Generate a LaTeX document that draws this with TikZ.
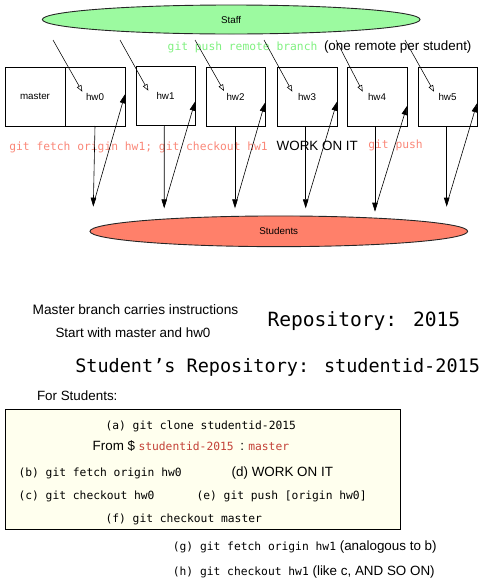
\documentclass[tikz,border=0pt]{standalone}
\usepackage{fontspec}
\setmainfont{Liberation Sans}
\newfontfamily\monof{DejaVu Sans Mono}
\usetikzlibrary{arrows.meta,shapes.geometric}
\definecolor{staffgreen}{RGB}{156,250,160}
\definecolor{studsalmon}{RGB}{255,128,106}
\definecolor{codegreen}{RGB}{128,240,128}
\definecolor{codesalmon}{RGB}{250,135,120}
\definecolor{codered}{RGB}{195,65,55}
\definecolor{noteyellow}{RGB}{255,255,238}
\begin{document}
\begin{tikzpicture}[x=1pt,y=-1pt,
  every node/.style={inner sep=0pt,outer sep=0pt},
  oval/.style={ellipse,draw=black!85,line width=0.9pt,minimum width=377.7pt,minimum height=30pt,font=\fontsize{9.8}{12}\selectfont},
  branch/.style={draw,line width=0.8pt,minimum width=60pt,minimum height=59pt,font=\fontsize{9.8}{12}\selectfont},
  pushline/.style={-{Triangle[open,length=6.5pt,width=5pt]},line width=0.55pt},
  fetchline/.style={-{Triangle[length=9pt,width=5.5pt]},line width=0.6pt},
  sanstxt/.style={font=\fontsize{13.4}{16}\selectfont,anchor=base west},
  codetxt/.style={font=\monof\fontsize{11.3}{14}\selectfont,anchor=base west},
  bigcode/.style={font=\monof\fontsize{19.6}{24}\selectfont,anchor=base west}]
\useasboundingbox (0,0) rectangle (487,587);

% ellipses
\node[oval,fill=staffgreen,minimum height=29pt] (staff) at (231.2,19.5) {Staff};
\node[oval,fill=studsalmon,minimum height=30.7pt] (students) at (278.8,231.3) {Students};

% branch boxes
\node[branch] (master) at (35,96.5) {master};
\node[branch] (b0) at (95,96.5) {hw0};
\node[branch,minimum width=59pt] (b1) at (165.5,96) {hw1};
\node[branch,minimum width=59pt] (b2) at (235.5,96.5) {hw2};
\node[branch] (b3) at (307,96.5) {hw3};
\node[branch] (b4) at (377,96.5) {hw4};
\node[branch,minimum width=59pt] (b5) at (447.5,96.5) {hw5};

% labels of the top part
\node[codetxt,text=codegreen] (pushlbl) at (167.7,50) {git push remote branch};
\node[sanstxt] (perstud) at (324,50) {(one remote per student)};
\node[codetxt,text=codesalmon] (fetchlbl) at (9.3,150.7) {git fetch origin hw1; git checkout hw1};
\node[sanstxt] (worklbl) at (276.7,150.7) {WORK ON IT};
\node[codetxt,text=codesalmon] (gitpush) at (368.3,148.6) {git push};

% push arrows from Staff
\coordinate (s0) at (53,40);   \coordinate (t0) at (82.3,91.7);
\coordinate (s1) at (120,40);  \coordinate (t1) at (148.3,90.7);
\coordinate (s2) at (195,40);  \coordinate (t2) at (224,91);
\coordinate (s3) at (264,40);  \coordinate (t3) at (292.3,91.7);
\coordinate (s4) at (336,40);  \coordinate (t4) at (362.7,91.7);
\coordinate (s5) at (405,40);  \coordinate (t5) at (434,91.7);
\foreach \i in {0,...,5}{\draw[pushline] (s\i) -- (t\i);}

% fetch arrows down to Students and back up
\coordinate (d0) at (93.3,206.7);
\coordinate (d1) at (164.2,208.3);
\coordinate (d2) at (235,208.3);
\coordinate (d3) at (305.7,208.3);
\coordinate (d4) at (375,211.7);
\coordinate (d5) at (446.7,206.7);
\draw[fetchline] (b0.south) -- (d0);
\draw[fetchline] ([xshift=-1.2pt]b1.south) -- (d1);
\draw[fetchline] ([xshift=-0.5pt]b2.south) -- (d2);
\draw[fetchline] ([xshift=-1.3pt]b3.south) -- (d3);
\draw[fetchline] ([xshift=-2pt]b4.south) -- (d4);
\draw[fetchline] ([xshift=-0.8pt]b5.south) -- (d5);
\draw[fetchline] ([yshift=2pt]d0) -- ([yshift=2.2pt]b0.east);
\draw[fetchline] ([yshift=2pt]d1) -- ([yshift=-5.7pt]b1.east);
\draw[fetchline] ([yshift=2pt]d2) -- ([yshift=-6.2pt]b2.east);
\draw[fetchline] ([yshift=2pt]d3) -- ([yshift=-5.2pt]b3.east);
\draw[fetchline] ([yshift=2pt]d4) -- ([yshift=-9.5pt]b4.east);
\draw[fetchline] ([yshift=2pt]d5) -- ([yshift=-6.8pt]b5.east);

% middle texts
\node[sanstxt,font=\fontsize{13.7}{16}\selectfont] (instr) at (32.7,314.3) {Master branch carries instructions};
\node[sanstxt] (startw) at (55.5,337.5) {Start with master and hw0};
\node[bigcode] (repo) at (267.5,326.7) {Repository: 2015};
\node[bigcode,font=\monof\fontsize{18.5}{22}\selectfont] (srepo) at (75.3,372.5) {Student’s Repository: studentid-2015};
\node[sanstxt] (forstud) at (37,400) {For Students:};

% instructions box
\node[draw,line width=0.9pt,fill=noteyellow,minimum width=395pt,minimum height=120pt] (steps) at (202.5,469) {};
\node[codetxt] (sa) at (105.5,429.3) {(a) git clone studentid-2015};
\node[sanstxt] (from) at (92.7,450) {From \$};
\node[codetxt,text=codered] (from2) at (138.5,450) {studentid-2015};
\node[sanstxt] (colon) at (240.3,450) {:};
\node[codetxt,text=codered] (from3) at (248.3,450) {master};
\node[codetxt] (sb) at (18.5,476) {(b) git fetch origin hw0};
\node[sanstxt] (sd) at (231.7,476) {(d) WORK ON IT};
\node[codetxt] (sc) at (18.5,499.3) {(c) git checkout hw0};
\node[codetxt] (se) at (196.5,499.3) {(e) git push [origin hw0]};
\node[codetxt] (sf) at (105.5,522.3) {(f) git checkout master};
\node[sanstxt] (sg) at (172.8,550.5) {{\monof\fontsize{11.3}{14}\selectfont (g) git fetch origin hw1} (analogous to b)};
\node[sanstxt] (sh) at (172.8,575) {{\monof\fontsize{11.3}{14}\selectfont (h) git checkout hw1} (like c, AND SO ON)};
\end{tikzpicture}
\end{document}
